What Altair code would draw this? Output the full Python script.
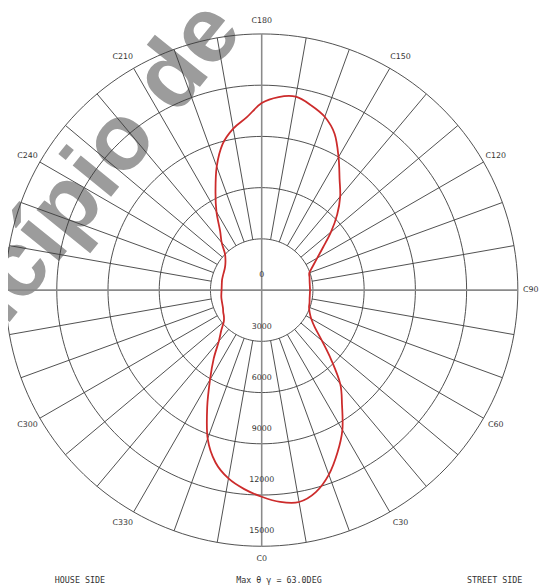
import altair as alt
import pandas as pd

# ---- data ----
c_angles = list(range(0, 360, 5))
intensity = [12100, 12450, 12600, 12250, 11500, 10500, 9450, 8200, 7150, 5750,
             4600, 3800, 3350, 3100, 2950, 2900, 2850, 2830, 2830, 2830,
             2850, 2900, 2970, 3300, 3750, 4400, 5300, 6250, 7150, 7950,
             9000, 10100, 10800, 11200, 11500, 11350, 10950, 10150, 9600, 8850,
             7700, 6400, 5300, 4250, 3650, 3050, 2770, 2600, 2500, 2450,
             2420, 2400, 2370, 2350, 2350, 2370, 2400, 2420, 2450, 2500,
             2600, 2700, 2900, 3350, 3900, 4900, 6050, 7550, 9250, 10450,
             11200, 11700]
ring_values = [3000, 6000, 9000, 12000, 15000]
ring_labels = [0, 3000, 6000, 9000, 12000, 15000]
spoke_angles = [a for a in range(0, 360, 10) if a % 90 != 0]
axis_angles = [0, 90]
c_label_angles = list(range(0, 360, 30))
c_label_texts = ["C" + str(a) for a in c_label_angles]
footer_texts = ["HOUSE SIDE", "Max \u03b8 \u03b3 = 63.0DEG", "STREET SIDE"]
watermark = "Munic\u00edpio de"

# ---- layout ----
W, H = 541, 578
CX, CY = 257.5, 282.0
U = 3000 / 52.0  # candela per pixel
xs = alt.Scale(domain=[-CX * U, (W - CX) * U], nice=False, zero=False)
ys = alt.Scale(domain=[-(H - CY) * U, CY * U], nice=False, zero=False)
X = lambda f: alt.X(f + ":Q", scale=xs, axis=None)
Y = lambda f: alt.Y(f + ":Q", scale=ys, axis=None)
RAD = "PI/180"
GRID = "#3a3a3a"

curve_df = pd.DataFrame({"c": c_angles, "i": intensity})
ring_df = pd.DataFrame([(v, a) for v in ring_values for a in range(0, 361, 2)],
                       columns=["r", "a"])
spoke_df = pd.DataFrame({"a": spoke_angles})
axis_df = pd.DataFrame({"a": axis_angles})
rlab_df = pd.DataFrame({"v": ring_labels, "t": [str(v) for v in ring_labels]})
clab_df = pd.DataFrame({"a": c_label_angles, "t": c_label_texts})
foot_df = pd.DataFrame({"t": footer_texts, "px": [73, 275, 494]})
wm_df = pd.DataFrame({"t": [watermark]})

wm = alt.Chart(wm_df).mark_text(
    font="Liberation Sans", fontWeight="bold", fontSize=95, color="#9c9c9c",
    align="right", baseline="alphabetic", angle=309
).encode(text="t:N", x=alt.value(240), y=alt.value(20))

rings = alt.Chart(ring_df).transform_calculate(
    x=f"datum.r*sin(datum.a*{RAD})", y=f"-datum.r*cos(datum.a*{RAD})"
).mark_line(color=GRID, strokeWidth=0.9).encode(
    x=X("x"), y=Y("y"), detail="r:N", order="a:Q")

spokes = alt.Chart(spoke_df).transform_calculate(
    x=f"3000*sin(datum.a*{RAD})", y=f"-3000*cos(datum.a*{RAD})",
    x2=f"15000*sin(datum.a*{RAD})", y2=f"-15000*cos(datum.a*{RAD})"
).mark_rule(color=GRID, strokeWidth=0.9).encode(
    x=X("x"), y=Y("y"), x2="x2:Q", y2="y2:Q")

axes = alt.Chart(axis_df).transform_calculate(
    x=f"-15000*sin(datum.a*{RAD})", y=f"15000*cos(datum.a*{RAD})",
    x2=f"15000*sin(datum.a*{RAD})", y2=f"-15000*cos(datum.a*{RAD})"
).mark_rule(color="#8a8a8a", strokeWidth=1.6).encode(
    x=X("x"), y=Y("y"), x2="x2:Q", y2="y2:Q")

curve = alt.Chart(curve_df).transform_calculate(
    x=f"datum.i*sin(datum.c*{RAD})", y=f"-datum.i*cos(datum.c*{RAD})"
).mark_line(color="#cc2b2b", strokeWidth=1.8, interpolate="cardinal-closed").encode(
    x=X("x"), y=Y("y"), order="c:Q")

rlab = alt.Chart(rlab_df).transform_calculate(
    x="0", y="-datum.v"
).mark_text(font="DejaVu Sans", fontSize=8, color="#333333", dy=-15,
            baseline="middle").encode(x=X("x"), y=Y("y"), text="t:N")

clab = alt.Chart(clab_df).transform_calculate(
    s=f"sin(datum.a*{RAD})", c=f"cos(datum.a*{RAD})"
).transform_calculate(
    x=f"(264*datum.s + (abs(datum.s) < 0.01 ? 0 : (datum.s > 0 ? 9 : -9)))*{U}",
    y=f"-273*datum.c*{U}"
).mark_text(font="DejaVu Sans", fontSize=8, color="#333333",
            baseline="middle").encode(x=X("x"), y=Y("y"), text="t:N")

foot = alt.Chart(foot_df).mark_text(
    font="DejaVu Sans Mono", fontSize=8.5, color="#333333", baseline="alphabetic"
).encode(text="t:N", x=alt.X("px:Q", scale=None, axis=None), y=alt.value(579))

chart = alt.layer(wm, rings, spokes, axes, curve, rlab, clab, foot).properties(
    width=W, height=H, padding=0,
    autosize=alt.AutoSizeParams(type="none"), background="white"
).configure_view(stroke=None)

chart.save("out.html", embed_options={"renderer": "svg", "actions": False})
